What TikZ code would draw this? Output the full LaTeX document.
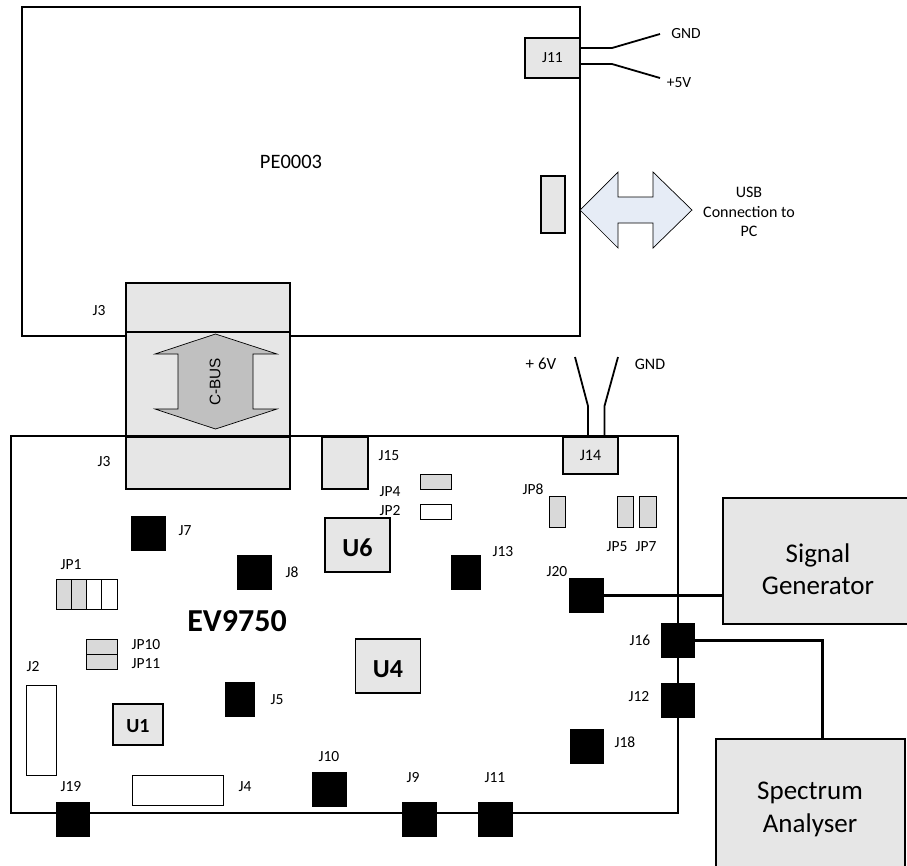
\documentclass[tikz,border=0pt]{standalone}
\usepackage{fontspec}
\setmainfont{Carlito}
\newfontfamily\busfont{Liberation Sans}
\usepackage{tikz}
\usetikzlibrary{positioning}
\definecolor{partgray}{HTML}{E6E6E6}
\definecolor{jumpgray}{HTML}{D9D9D9}
\definecolor{busgray}{HTML}{C0C0C0}
\definecolor{usbblue}{HTML}{E6ECF6}
\tikzset{
  partbox/.style={rectangle, draw, inner sep=0pt, outer sep=0pt},
  conn/.style={partbox, fill=black},
  socket/.style={partbox, fill=partgray, line width=1.6pt},
  jumper/.style={partbox, fill=jumpgray, line width=0.9pt},
  header/.style={partbox, fill=white, line width=0.9pt},
  chip/.style={socket, font=\fontsize{26}{30}\selectfont\bfseries, text height=23pt},
  instr/.style={partbox, fill=partgray, line width=1.2pt},
  lbl/.style={inner sep=0pt, font=\fontsize{15.5}{19.5}\selectfont},
  biglbl/.style={lbl, align=center, font=\fontsize{27}{32.5}\selectfont},
  wire/.style={line width=1.8pt},
  signal/.style={line width=3pt}
}
\begin{document}
\begin{tikzpicture}[x=1pt, y=-1pt]
  \useasboundingbox (0,0) rectangle (907,865);
  % Define boards
  \node[partbox, line width=1.5pt, minimum width=558pt, minimum height=329pt] (pe) at (301,171.5) {};
  \node[partbox, line width=1.9pt, minimum width=667pt, minimum height=377pt] (ev) at (344.5,624.5) {};
  \node[lbl, font=\fontsize{20.5}{24}\selectfont] (pename) at (291,162) {PE0003};
  \node[lbl, font=\fontsize{32}{36}\selectfont\bfseries] (evname) at (237,621) {EV9750};

  % Define C-BUS connectors
  \node[socket, minimum width=164pt, minimum height=49pt] (j3top) at (208,307.5) {};
  \node[socket, minimum width=164pt, minimum height=104pt] (cbus) at (208,384) {};
  \node[socket, minimum width=164pt, minimum height=53pt] (j3bot) at (208,462.5) {};
  \draw[line width=3pt] (j3bot.north west) -- (j3bot.north east);
  \draw[fill=busgray, line width=0.7pt] (215.5,334) -- (277,354) -- (253,354) -- (253,409) -- (277,409)
    -- (215.5,429) -- (155,409) -- (178,409) -- (178,354) -- (155,354) -- cycle;
  \node[lbl, rotate=90, font=\fontsize{15.3}{18}\busfont] (cbusname) at (215,382) {C-BUS};
  \node[lbl] (j3toplbl) at (99,311) {J3};
  \node[lbl] (j3botlbl) at (104,462) {J3};

  % Define PE0003 parts
  \node[socket, minimum width=55pt, minimum height=40pt, font=\fontsize{15.5}{19}\selectfont] (pej11) at (552.5,58) {J11};
  \node[socket, line width=1.2pt, minimum width=24pt, minimum height=57pt] (usb) at (553,204.5) {};
  \draw[fill=usbblue, line width=0.7pt] (580,210) -- (618,172) -- (618,197) -- (653,197) -- (653,172)
    -- (692,210) -- (653,248) -- (653,223) -- (618,223) -- (618,248) -- cycle;
  \node[lbl, align=center, font=\fontsize{16}{19.5}\selectfont] (usblbl) at (749,212) {USB\\Connection to\\PC};
  \coordinate (gndbend) at (612,48);
  \coordinate (gndend) at (660,34);
  \coordinate (fivebend) at (612,64);
  \coordinate (fiveend) at (660,78);
  \draw[wire] (pej11.east |- gndbend) -- (gndbend) -- (gndend);
  \draw[wire] (pej11.east |- fivebend) -- (fivebend) -- (fiveend);
  \node[lbl] (gndtop) at (686,34) {GND};
  \node[lbl] (five) at (679,83) {+5V};

  % Define power input
  \node[socket, minimum width=55pt, minimum height=37pt, font=\fontsize{16}{19}\selectfont] (j14) at (590.5,455.5) {J14};
  \coordinate (sixbend) at (588,406);
  \coordinate (sixend) at (575,357);
  \coordinate (gbend) at (604.5,406);
  \coordinate (gend) at (618,357);
  \draw[wire] (sixbend |- j14.north) -- (sixbend) -- (sixend);
  \draw[wire] (gbend |- j14.north) -- (gbend) -- (gend);
  \node[lbl, font=\fontsize{17}{20}\selectfont] (six) at (541,364) {+ 6V};
  \node[lbl, font=\fontsize{16}{19}\selectfont] (gndbot) at (650,364) {GND};

  % Define jumpers
  \node[jumper, minimum width=31pt, minimum height=15pt] (jp4) at (435.5,481.5) {};
  \node[header, minimum width=31pt, minimum height=15pt] (jp2) at (435.5,511.5) {};
  \node[jumper, minimum width=16pt, minimum height=31pt] (jp8) at (557,511.5) {};
  \node[jumper, minimum width=16pt, minimum height=31pt] (jp5) at (625,511.5) {};
  \node[jumper, minimum width=17pt, minimum height=31pt] (jp7) at (647.5,511.5) {};
  \node[jumper, minimum width=15.25pt, minimum height=30pt] (jp1a) at (63.6,594) {};
  \node[jumper, minimum width=15.25pt, minimum height=30pt, right=0pt of jp1a] (jp1b) {};
  \node[header, minimum width=15.25pt, minimum height=30pt, right=0pt of jp1b] (jp1c) {};
  \node[header, minimum width=15.25pt, minimum height=30pt, right=0pt of jp1c] (jp1d) {};
  \node[jumper, minimum width=30.5pt, minimum height=15pt] (jp10) at (101.7,647) {};
  \node[jumper, minimum width=30.5pt, minimum height=15pt, below=0pt of jp10] (jp11) {};
  \node[lbl] (jp4lbl) at (390,492) {JP4};
  \node[lbl] (jp2lbl) at (390,511) {JP2};
  \node[lbl] (jp8lbl) at (533,489) {JP8};
  \node[lbl] (jp5lbl) at (617,546.5) {JP5};
  \node[lbl] (jp7lbl) at (646,546.5) {JP7};
  \node[lbl] (jp1lbl) at (71,565) {JP1};
  \node[lbl] (jp10lbl) at (146,645) {JP10};
  \node[lbl] (jp11lbl) at (146,664) {JP11};

  % Define chips
  \node[chip, minimum width=65pt, minimum height=54pt] (u6) at (357.5,545) {U6};
  \node[chip, minimum width=65pt, minimum height=54pt] (u4) at (388,666) {U4};
  \node[chip, minimum width=50pt, minimum height=41pt, font=\fontsize{20}{24}\selectfont\bfseries, text height=17pt] (u1) at (138,724.5) {U1};

  % Define connectors
  \node[socket, line width=1.4pt, minimum width=46pt, minimum height=52pt] (j15) at (345,463) {};
  \node[header, minimum width=30pt, minimum height=90pt] (j2) at (41,730) {};
  \node[header, minimum width=91pt, minimum height=30pt] (j4) at (177.5,790) {};
  \node[conn, minimum width=34pt, minimum height=34pt] (j7) at (148,533) {};
  \node[conn, minimum width=34pt, minimum height=34pt] (j8) at (254,572) {};
  \node[conn, minimum width=29pt, minimum height=34pt] (j13) at (466,572) {};
  \node[conn, minimum width=34pt, minimum height=34pt] (j20) at (586,595.5) {};
  \node[conn, minimum width=33pt, minimum height=34pt] (j16) at (677.5,640) {};
  \node[conn, minimum width=33pt, minimum height=34pt] (j12) at (677.5,700) {};
  \node[conn, minimum width=29pt, minimum height=34pt] (j5) at (239.5,699) {};
  \node[conn, minimum width=33pt, minimum height=34pt] (j18) at (587,746) {};
  \node[conn, minimum width=34pt, minimum height=34pt] (j10) at (329,789) {};
  \node[conn, minimum width=34pt, minimum height=34pt] (j9) at (419,819.5) {};
  \node[conn, minimum width=34pt, minimum height=34pt] (j11) at (495,819.5) {};
  \node[conn, minimum width=33pt, minimum height=34pt] (j19) at (72.5,819) {};
  \node[lbl] (j15lbl) at (389,456) {J15};
  \node[lbl] (j2lbl) at (33,667) {J2};
  \node[lbl] (j4lbl) at (245,787) {J4};
  \node[lbl] (j7lbl) at (185,531) {J7};
  \node[lbl] (j8lbl) at (292,572) {J8};
  \node[lbl] (j13lbl) at (503,552) {J13};
  \node[lbl] (j20lbl) at (557,572) {J20};
  \node[lbl] (j16lbl) at (640,640) {J16};
  \node[lbl] (j12lbl) at (639,697) {J12};
  \node[lbl] (j5lbl) at (277,700) {J5};
  \node[lbl] (j18lbl) at (625,742) {J18};
  \node[lbl] (j10lbl) at (329,757) {J10};
  \node[lbl] (j9lbl) at (413,778) {J9};
  \node[lbl] (j11lbl) at (495,778) {J11};
  \node[lbl] (j19lbl) at (71,787) {J19};

  % Define instruments
  \node[instr, minimum width=192pt, minimum height=126pt] (siggen) at (819,561) {};
  \node[instr, minimum width=189pt, minimum height=141pt] (specan) at (810.5,809.5) {};
  \node[biglbl] (siggenlbl) at (818,569) {Signal\\Generator};
  \node[biglbl] (specanlbl) at (810,809.5) {Spectrum\\Analyser};

  % Draw signal cables
  \coordinate (specbend) at (822,640);
  \draw[signal] (j20.east) -- (j20.east -| siggen.west);
  \draw[signal] (j16.east) -- (specbend) -- (specbend |- specan.north);
\end{tikzpicture}
\end{document}
